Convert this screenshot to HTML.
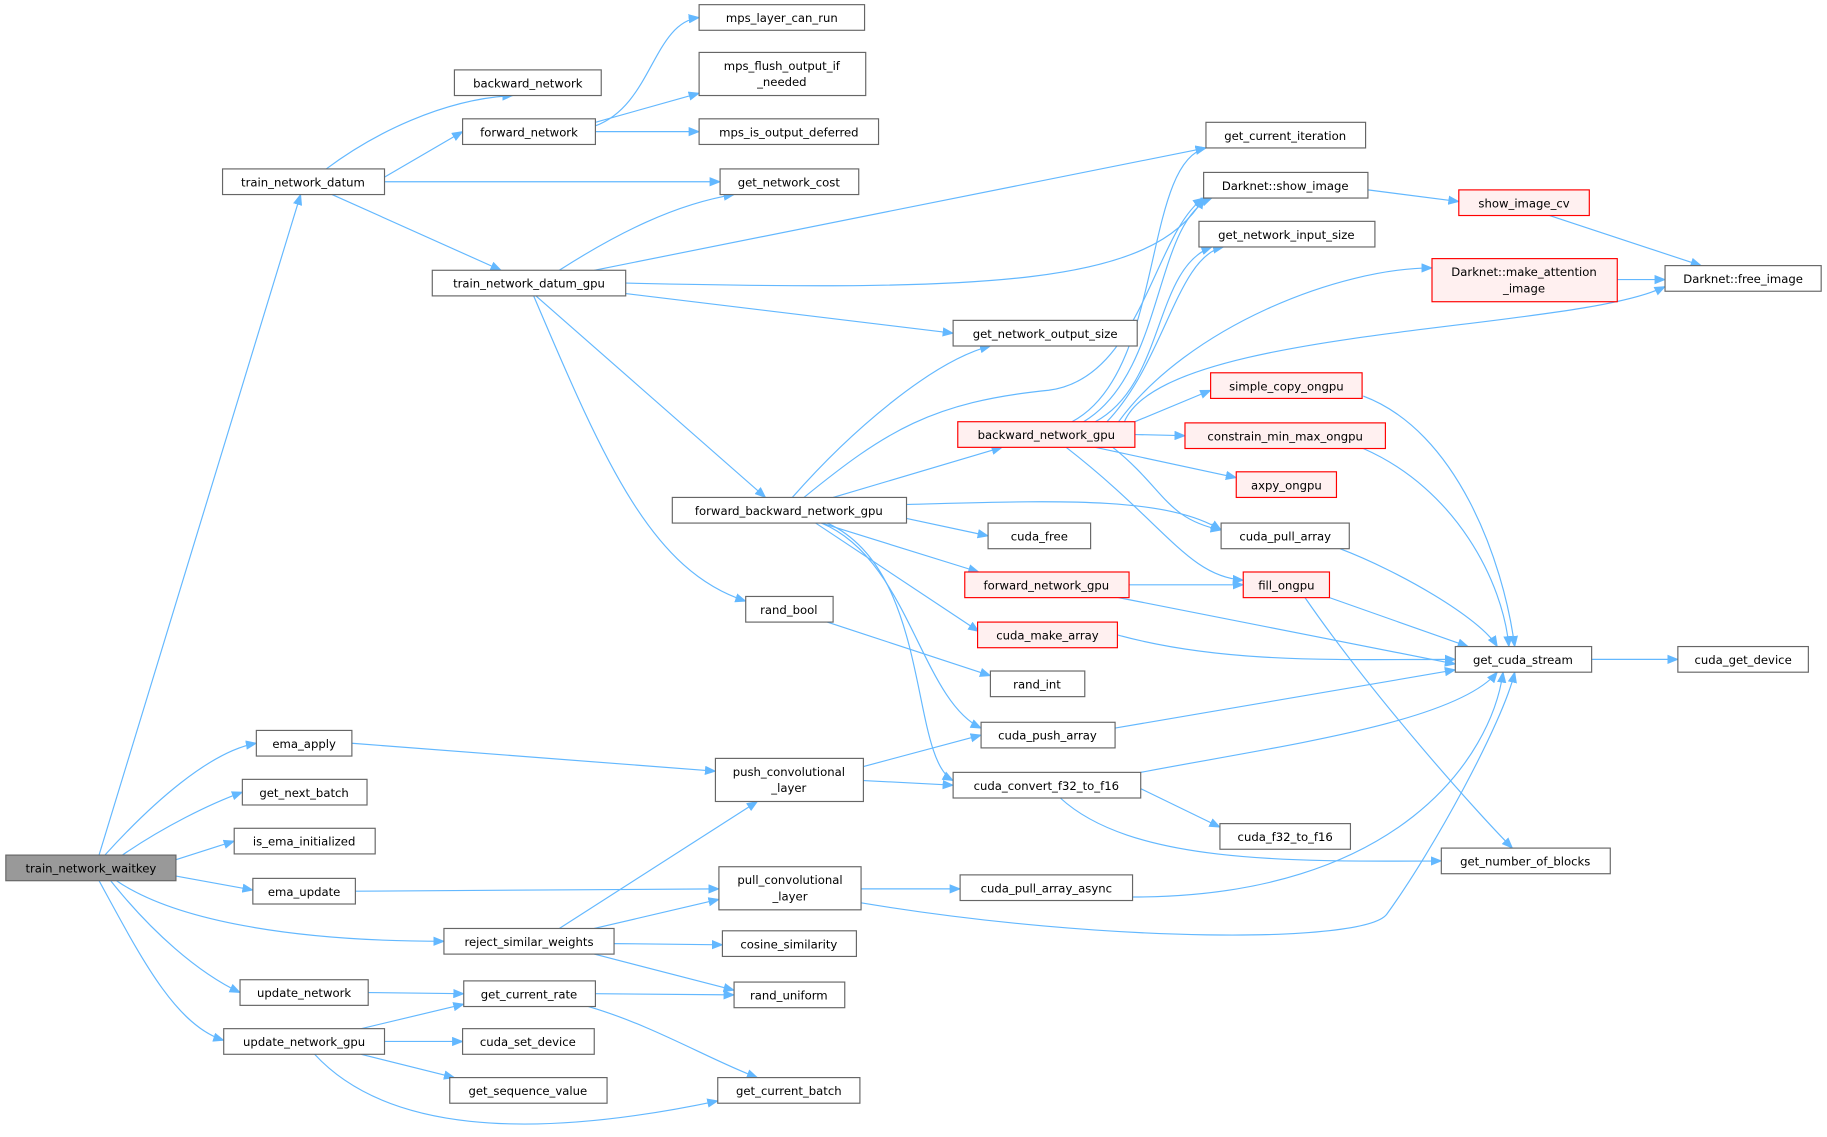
<!DOCTYPE html>
<html><head><meta charset="utf-8"><style>
html,body{margin:0;padding:0;background:#fff;}
svg{display:block;}
text{font-family:"DejaVu Sans","Liberation Sans",sans-serif;font-size:10px;fill:#000;}
.n rect{fill:#fff;stroke:#666;stroke-width:1;}
.r rect{fill:#fff0f0;stroke:#f00;stroke-width:1;}
.g rect{fill:#999;stroke:#666;}
path{fill:none;stroke:#63b8ff;stroke-width:1;marker-end:url(#a);}
</style></head><body>
<svg width="1827" height="1137" viewBox="0 0 1568 976" preserveAspectRatio="none" xmlns="http://www.w3.org/2000/svg">
<defs><marker id="a" markerWidth="10" markerHeight="8" refX="9" refY="4" orient="auto" markerUnits="userSpaceOnUse"><polygon points="0,0 10,4 0,8" fill="#63b8ff"/></marker></defs>
<g>
<path d="M85,734 L258,167"/>
<path d="M90,734 C130,690 180,645 220,638"/>
<path d="M105,734 C140,710 180,690 208,680"/>
<path d="M151,738 L201,722"/>
<path d="M151,752 L217,764"/>
<path d="M100,756 C150,790 250,808 381,808"/>
<path d="M95,756 C130,800 170,835 206,852"/>
<path d="M85,756 C120,820 150,880 192,893"/>
<path d="M280,145 C320,115 380,85 440,82"/>
<path d="M330,152 L397,113"/>
<path d="M330,156 L618,156"/>
<path d="M285,167 L430,232"/>
<path d="M511,108 C560,90 560,20 600,15"/>
<path d="M511,105 L600,80"/>
<path d="M511,113 L600,113"/>
<path d="M480,232 C530,200 580,175 630,167"/>
<path d="M510,232 L1035,127"/>
<path d="M537,243 C850,250 990,245 1033,170"/>
<path d="M537,252 L818,286"/>
<path d="M460,254 L657,427"/>
<path d="M458,254 C520,400 560,490 640,516"/>
<path d="M680,427 C730,370 800,310 850,297"/>
<path d="M690,427 C760,370 800,345 900,335 C980,325 990,200 1033,170"/>
<path d="M715,427 L860,384"/>
<path d="M778,433 C900,430 1000,425 1048,455"/>
<path d="M778,445 L848,460"/>
<path d="M705,449 L840,491"/>
<path d="M700,449 L840,542"/>
<path d="M705,449 C780,480 790,600 842,625"/>
<path d="M710,449 C800,490 780,650 818,670"/>
<path d="M920,362 C1000,320 980,140 1035,127"/>
<path d="M930,362 C1000,320 990,190 1040,170"/>
<path d="M940,362 C1000,330 990,230 1040,212"/>
<path d="M950,362 C1000,310 1010,220 1050,212"/>
<path d="M960,362 C1020,280 1150,230 1229,230"/>
<path d="M965,362 C1000,280 1350,285 1429,246"/>
<path d="M974,362 L1039,335"/>
<path d="M974,373 L1017,374"/>
<path d="M940,384 L1061,410"/>
<path d="M955,384 C1000,420 1000,445 1048,455"/>
<path d="M915,384 C1000,450 1020,495 1067,498"/>
<path d="M1174,163 L1252,173"/>
<path d="M1330,185 L1460,228"/>
<path d="M1388,240 L1429,240"/>
<path d="M1170,340 C1250,370 1290,480 1300,555"/>
<path d="M1170,385 C1250,420 1290,500 1295,555"/>
<path d="M1150,471 C1200,490 1270,530 1285,555"/>
<path d="M969,502 L1067,502"/>
<path d="M960,513 L1249,570"/>
<path d="M1141,513 L1260,555"/>
<path d="M1120,513 C1180,600 1270,700 1298,728"/>
<path d="M959,545 C1050,570 1150,566 1249,566"/>
<path d="M710,534 L850,580"/>
<path d="M1366,566 L1440,566"/>
<path d="M957,625 L1249,575"/>
<path d="M979,663 C1100,640 1250,620 1285,577"/>
<path d="M979,677 L1047,710"/>
<path d="M910,685 C970,740 1100,740 1237,739"/>
<path d="M302,638 L614,662"/>
<path d="M741,658 L842,631"/>
<path d="M741,670 L818,674"/>
<path d="M305,765 L617,763"/>
<path d="M739,763 L824,763"/>
<path d="M739,775 C950,810 1170,810 1190,785 C1230,730 1290,620 1300,577"/>
<path d="M972,770 C1200,770 1280,650 1290,577"/>
<path d="M480,797 L650,688"/>
<path d="M510,797 L617,772"/>
<path d="M527,810 L620,811"/>
<path d="M510,819 L630,850"/>
<path d="M316,852 L398,853"/>
<path d="M310,883 L398,862"/>
<path d="M330,894 L397,894"/>
<path d="M310,905 L390,925"/>
<path d="M270,905 C330,970 450,980 616,945"/>
<path d="M511,853 L630,854"/>
<path d="M505,864 C560,880 610,910 650,925"/>
</g>
<g class="g"><rect x="5" y="734" width="146" height="22"/><text x="78" y="749" text-anchor="middle">train_network_waitkey</text></g>
<g class="n">
<rect x="191" y="145" width="139" height="22"/><text x="260" y="160" text-anchor="middle">train_network_datum</text>
<rect x="390" y="60" width="126" height="22"/><text x="453" y="75" text-anchor="middle">backward_network</text>
<rect x="397" y="102" width="114" height="22"/><text x="454" y="117" text-anchor="middle">forward_network</text>
<rect x="600" y="4" width="142" height="22"/><text x="671" y="19" text-anchor="middle">mps_layer_can_run</text>
<rect x="600" y="45" width="143" height="37"/><text x="671" y="60" text-anchor="middle">mps_flush_output_if</text><text x="671" y="74" text-anchor="middle">_needed</text>
<rect x="600" y="102" width="154" height="22"/><text x="677" y="117" text-anchor="middle">mps_is_output_deferred</text>
<rect x="618" y="145" width="119" height="22"/><text x="677" y="160" text-anchor="middle">get_network_cost</text>
<rect x="1035" y="105" width="137" height="22"/><text x="1103" y="120" text-anchor="middle">get_current_iteration</text>
<rect x="371" y="232" width="166" height="22"/><text x="454" y="247" text-anchor="middle">train_network_datum_gpu</text>
<rect x="1033" y="148" width="141" height="22"/><text x="1103" y="163" text-anchor="middle">Darknet::show_image</text>
<rect x="1429" y="228" width="134" height="22"/><text x="1496" y="243" text-anchor="middle">Darknet::free_image</text>
<rect x="1029" y="190" width="151" height="22"/><text x="1104" y="205" text-anchor="middle">get_network_input_size</text>
<rect x="818" y="275" width="158" height="22"/><text x="897" y="290" text-anchor="middle">get_network_output_size</text>
<rect x="577" y="427" width="201" height="22"/><text x="677" y="442" text-anchor="middle">forward_backward_network_gpu</text>
<rect x="848" y="449" width="88" height="22"/><text x="892" y="464" text-anchor="middle">cuda_free</text>
<rect x="1048" y="449" width="110" height="22"/><text x="1103" y="464" text-anchor="middle">cuda_pull_array</text>
<rect x="640" y="512" width="75" height="22"/><text x="677" y="527" text-anchor="middle">rand_bool</text>
<rect x="1249" y="555" width="117" height="22"/><text x="1307" y="570" text-anchor="middle">get_cuda_stream</text>
<rect x="1440" y="555" width="112" height="22"/><text x="1496" y="570" text-anchor="middle">cuda_get_device</text>
<rect x="850" y="576" width="81" height="22"/><text x="890" y="591" text-anchor="middle">rand_int</text>
<rect x="842" y="620" width="115" height="22"/><text x="899" y="635" text-anchor="middle">cuda_push_array</text>
<rect x="220" y="627" width="82" height="22"/><text x="261" y="642" text-anchor="middle">ema_apply</text>
<rect x="614" y="651" width="127" height="37"/><text x="677" y="666" text-anchor="middle">push_convolutional</text><text x="677" y="680" text-anchor="middle">_layer</text>
<rect x="818" y="663" width="161" height="22"/><text x="898" y="678" text-anchor="middle">cuda_convert_f32_to_f16</text>
<rect x="208" y="669" width="107" height="22"/><text x="261" y="684" text-anchor="middle">get_next_batch</text>
<rect x="1047" y="707" width="112" height="22"/><text x="1103" y="722" text-anchor="middle">cuda_f32_to_f16</text>
<rect x="201" y="711" width="121" height="22"/><text x="261" y="726" text-anchor="middle">is_ema_initialized</text>
<rect x="1237" y="728" width="145" height="22"/><text x="1309" y="743" text-anchor="middle">get_number_of_blocks</text>
<rect x="217" y="754" width="88" height="22"/><text x="261" y="769" text-anchor="middle">ema_update</text>
<rect x="617" y="744" width="122" height="37"/><text x="678" y="759" text-anchor="middle">pull_convolutional</text><text x="678" y="773" text-anchor="middle">_layer</text>
<rect x="824" y="751" width="148" height="22"/><text x="898" y="766" text-anchor="middle">cuda_pull_array_async</text>
<rect x="381" y="797" width="146" height="22"/><text x="454" y="812" text-anchor="middle">reject_similar_weights</text>
<rect x="620" y="799" width="115" height="22"/><text x="677" y="814" text-anchor="middle">cosine_similarity</text>
<rect x="206" y="841" width="110" height="22"/><text x="261" y="856" text-anchor="middle">update_network</text>
<rect x="398" y="842" width="113" height="22"/><text x="454" y="857" text-anchor="middle">get_current_rate</text>
<rect x="630" y="843" width="95" height="22"/><text x="677" y="858" text-anchor="middle">rand_uniform</text>
<rect x="192" y="883" width="138" height="22"/><text x="261" y="898" text-anchor="middle">update_network_gpu</text>
<rect x="397" y="883" width="113" height="22"/><text x="453" y="898" text-anchor="middle">cuda_set_device</text>
<rect x="386" y="925" width="135" height="22"/><text x="453" y="940" text-anchor="middle">get_sequence_value</text>
<rect x="616" y="925" width="122" height="22"/><text x="677" y="940" text-anchor="middle">get_current_batch</text>
</g>
<g class="r">
<rect x="1252" y="163" width="112" height="22"/><text x="1308" y="178" text-anchor="middle">show_image_cv</text>
<rect x="1229" y="222" width="159" height="37"/><text x="1308" y="237" text-anchor="middle">Darknet::make_attention</text><text x="1308" y="251" text-anchor="middle">_image</text>
<rect x="1039" y="320" width="130" height="22"/><text x="1104" y="335" text-anchor="middle">simple_copy_ongpu</text>
<rect x="822" y="362" width="152" height="22"/><text x="898" y="377" text-anchor="middle">backward_network_gpu</text>
<rect x="1017" y="363" width="172" height="22"/><text x="1103" y="378" text-anchor="middle">constrain_min_max_ongpu</text>
<rect x="1061" y="405" width="86" height="22"/><text x="1104" y="420" text-anchor="middle">axpy_ongpu</text>
<rect x="828" y="491" width="141" height="22"/><text x="898" y="506" text-anchor="middle">forward_network_gpu</text>
<rect x="1067" y="491" width="74" height="22"/><text x="1104" y="506" text-anchor="middle">fill_ongpu</text>
<rect x="839" y="534" width="120" height="22"/><text x="899" y="549" text-anchor="middle">cuda_make_array</text>
</g>
</svg>
</body></html>
